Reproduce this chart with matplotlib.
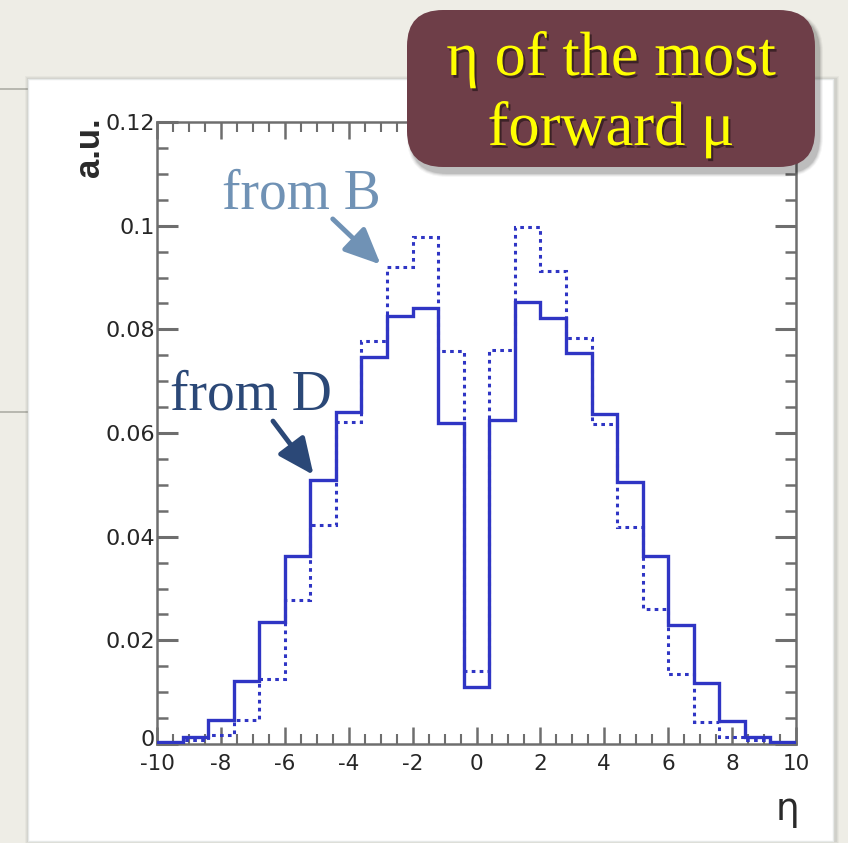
import matplotlib
matplotlib.use("Agg")
import matplotlib.pyplot as plt
import matplotlib.patheffects as pe
from matplotlib.patches import Rectangle, FancyBboxPatch
from matplotlib.lines import Line2D
from matplotlib.transforms import IdentityTransform, ScaledTranslation
from matplotlib.ticker import MultipleLocator, FixedLocator, FixedFormatter

# ---- data: pseudorapidity of the most forward muon, 25 bins on [-10, 10] ----
bin_edges = [-10.0, -9.2, -8.4, -7.6, -6.8, -6.0, -5.2, -4.4, -3.6, -2.8, -2.0,
             -1.2, -0.4, 0.4, 1.2, 2.0, 2.8, 3.6, 4.4, 5.2, 6.0, 6.8, 7.6,
             8.4, 9.2, 10.0]
from_D = [0.0003, 0.0013, 0.0047, 0.0122, 0.0235, 0.0363, 0.0509, 0.0641,
          0.0746, 0.0826, 0.0842, 0.0620, 0.0110, 0.0625, 0.0852, 0.0822,
          0.0754, 0.0636, 0.0506, 0.0363, 0.0229, 0.0117, 0.0044, 0.0013,
          0.0003]
from_B = [0.0001, 0.0008, 0.0017, 0.0047, 0.0126, 0.0277, 0.0422, 0.0621,
          0.0778, 0.0920, 0.0979, 0.0759, 0.0141, 0.0761, 0.0998, 0.0913,
          0.0783, 0.0617, 0.0419, 0.0260, 0.0135, 0.0043, 0.0013, 0.0008,
          0.0001]
y_ticks = [0, 0.02, 0.04, 0.06, 0.08, 0.1, 0.12]
y_tick_labels = ["0", "0.02", "0.04", "0.06", "0.08", "0.1", "0.12"]
x_ticks = [-10, -8, -6, -4, -2, 0, 2, 4, 6, 8, 10]
x_tick_labels = ["-10", "-8", "-6", "-4", "-2", "0", "2", "4", "6", "8", "10"]

W, H = 848, 843
plt.rcParams["axes.unicode_minus"] = False
fig = plt.figure(figsize=(W / 100, H / 100), dpi=100)
fig.patch.set_facecolor("#eeede6")
ident = IdentityTransform()


def box(x0, y0, x1, y1):
    """Pixel box given with a top-left origin -> display-space (x, y, w, h)."""
    return x0, H - y1, x1 - x0, y1 - y0


# slide rules peeking out behind the white panel
for yy in (89, 412):
    fig.add_artist(Line2D([0, 30], [H - yy, H - yy], transform=ident,
                          color="#aeaea6", lw=1.2, zorder=-5))

# white panel with a soft shadow
for i, a in enumerate([0.03, 0.04, 0.05]):
    g = 3 - i
    x, y, w, h = box(28 - g, 79 - g, 834 + g + 2, 841 + g)
    fig.add_artist(Rectangle((x, y), w, h, transform=ident, zorder=-4,
                             facecolor="black", alpha=a, edgecolor="none"))
x, y, w, h = box(28, 79, 833, 841)
fig.add_artist(Rectangle((x, y), w, h, transform=ident, zorder=-3,
                         facecolor="white", edgecolor="#e6e9e8", lw=1.0))

# ---- histogram axes ----
ax = fig.add_axes([157 / W, 1 - 744 / H, (796 - 157) / W, (744 - 122) / H])
ax.set_zorder(1)
ax.set_facecolor("white")
ax.set_xlim(-10, 10)
ax.set_ylim(0, 0.12)

hist_color = "#2f35c4"
ax.stairs(from_B, bin_edges, baseline=0, fill=False, color=hist_color,
          lw=2.2, linestyle=(0, (1.2, 1.4)), zorder=3)
ax.stairs(from_D, bin_edges, baseline=0, fill=False, color=hist_color,
          lw=2.4, zorder=4)

frame_color = "#6e6e6e"
for s in ax.spines.values():
    s.set_color(frame_color)
    s.set_linewidth(1.8)

ax.xaxis.set_major_locator(FixedLocator(x_ticks))
ax.xaxis.set_major_formatter(FixedFormatter(x_tick_labels))
ax.xaxis.set_minor_locator(MultipleLocator(0.5))
ax.yaxis.set_major_locator(FixedLocator(y_ticks))
ax.yaxis.set_major_formatter(FixedFormatter(y_tick_labels))
ax.yaxis.set_minor_locator(MultipleLocator(0.005))

ax.tick_params(which="both", direction="in", top=True, right=True,
               color=frame_color, labelcolor="#262626")
ax.xaxis.set_tick_params(which="major", length=12, width=1.8, pad=7,
                         labelsize=15.5)
ax.xaxis.set_tick_params(which="minor", length=7, width=1.5)
ax.yaxis.set_tick_params(which="major", length=15, width=2.2, pad=1.5,
                         labelsize=16)
ax.yaxis.set_tick_params(which="minor", length=8, width=1.8)
for lab in ax.get_xticklabels() + ax.get_yticklabels():
    lab.set_family("DejaVu Sans")

# the zero label on the y axis sits a little higher, clear of "-10"
zero_tick = ax.yaxis.get_major_ticks()[0]
zero_tick.label1.set_transform(zero_tick.label1.get_transform()
                               + ScaledTranslation(0, 4 / 72, fig.dpi_scale_trans))

ax.text(-0.106, 1.007, "a.u.", transform=ax.transAxes, rotation=90,
        ha="center", va="top", fontsize=25, fontweight="bold",
        family="Liberation Sans", color="#2a2a2a")
fig.text(787 / W, 1 - 810 / H, "η", ha="center", va="center", fontsize=27,
         family="DejaVu Sans", color="#2a2a2a")

# ---- annotations ----
col_B = "#7092b5"
col_D = "#2b4877"
ax.text(-7.97, 0.1033, "from B", color=col_B, fontsize=40,
        family="Liberation Serif", ha="left", va="baseline", zorder=6)
ax.annotate("", xy=(-3.0, 0.0925), xytext=(-4.5, 0.1013),
            arrowprops=dict(arrowstyle="-|>,head_length=1.0,head_width=0.45",
                            mutation_scale=22, lw=3.5, color=col_B,
                            shrinkA=0, shrinkB=0), zorder=6)
ax.text(-9.6, 0.0646, "from D", color=col_D, fontsize=40,
        family="Liberation Serif", ha="left", va="baseline", zorder=6)
ax.annotate("", xy=(-5.1, 0.0519), xytext=(-6.37, 0.0623),
            arrowprops=dict(arrowstyle="-|>,head_length=1.0,head_width=0.45",
                            mutation_scale=22, lw=3.5, color=col_D,
                            shrinkA=0, shrinkB=0), zorder=6)

# ---- title badge ----
bx0, by0, bx1, by1 = 407, 10, 815, 167
for i, a in enumerate([0.04, 0.06, 0.08, 0.10]):
    g = 4 - i
    x, y, w, h = box(bx0 + 4 - g, by0 + 6 - g, bx1 + 4 + g, by1 + 6 + g)
    fig.add_artist(FancyBboxPatch((x, y), w, h, transform=ident, zorder=10,
                                  boxstyle="round,pad=0,rounding_size=%d" % (36 + g),
                                  facecolor="black", alpha=a, edgecolor="none"))
x, y, w, h = box(bx0, by0, bx1, by1)
fig.add_artist(FancyBboxPatch((x, y), w, h, transform=ident, zorder=11,
                              boxstyle="round,pad=0,rounding_size=36",
                              facecolor="#6e3e48", edgecolor="none"))
shadow = [pe.withSimplePatchShadow(offset=(1.5, -2), shadow_rgbFace="black",
                                   alpha=0.45)]
fig.text(611 / W, 1 - 75 / H, "η of the most", ha="center", va="baseline",
         fontsize=45, family="Liberation Serif", color="#ffff00",
         path_effects=shadow, zorder=12)
fig.text(611 / W, 1 - 145 / H, "forward μ", ha="center", va="baseline",
         fontsize=45, family="Liberation Serif", color="#ffff00",
         path_effects=shadow, zorder=12)

fig.savefig("out.png", dpi=100, facecolor=fig.get_facecolor())
